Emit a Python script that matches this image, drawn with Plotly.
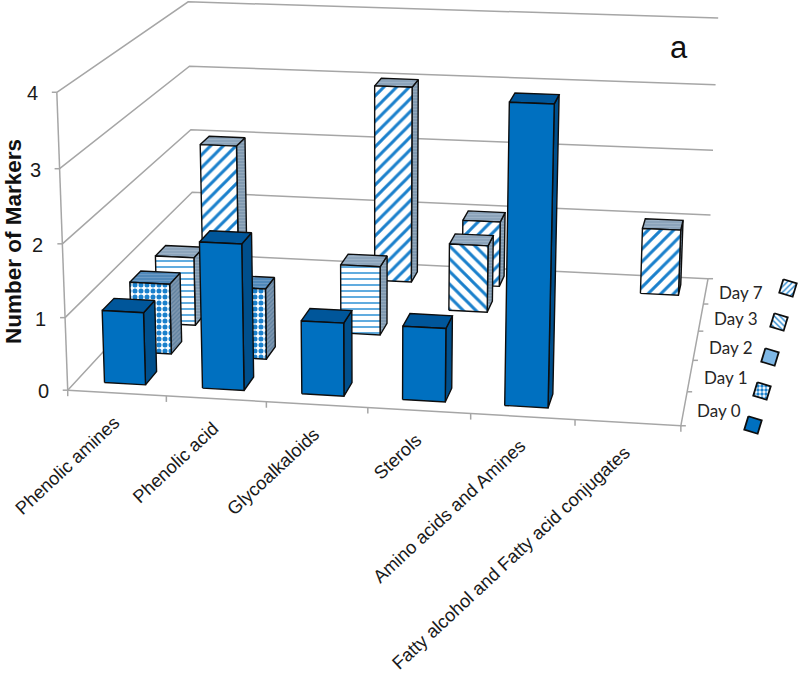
import numpy as np
import plotly.graph_objects as go

# ---- data ----
categories = ["Phenolic amines", "Phenolic acid", "Glycoalkaloids", "Sterols",
              "Amino acids and Amines", "Fatty alcohol and Fatty acid conjugates"]
days = ["Day 0", "Day 1", "Day 2", "Day 3", "Day 7"]
day0 = [1, 2, 1, 1, 4, 0]
day1 = [1, 1, 0, 0, 0, 0]
day2 = [1, 0, 1, 0, 0, 0]
day3 = [0, 0, 0, 1, 0, 0]
day7 = [2, 0, 3, 1, 0, 1]
series = [day0, day1, day2, day3, day7]
value_ticks = [0, 1, 2, 3, 4]

# ---- oblique-view calibration: (category, depth, value) -> page position ----
calib_src = [(0,0,0),(0,0,1),(0,0,2),(0,0,3),(0,0,4),
             (0,5,0),(0,5,1),(0,5,2),(0,5,3),(0,5,4),
             (6,5,0),(6,5,1),(6,5,2),(6,5,3),(6,5,4),
             (6,0,0),(1,0,0),(2,0,0),(3,0,0),(4,0,0),(5,0,0),
             (6,1,0),(6,2,0),(6,3,0),(6,4,0)]
calib_dst = [(68,390),(65,317),(62,243),(60,168),(57,93),
             (194,255),(192,193),(191,129),(189,66),(188,2),
             (708,277),(711,215),(713,151),(716,85),(718,18),
             (681,426),(166,396),(267,402),(367,408),(471,414),(575,420),
             (687,392),(693,360),(698,331),(703,304)]

rows = []
for (X, Y, Z), (x, y) in zip(calib_src, calib_dst):
    x, y = x / 1000, y / 1000
    rows.append([X, Y, Z, 1, 0, 0, 0, 0, -x*X, -x*Y, -x*Z, -x])
    rows.append([0, 0, 0, 0, X, Y, Z, 1, -y*X, -y*Y, -y*Z, -y])
P = np.linalg.svd(np.array(rows, float))[2][-1].reshape(3, 4)


def proj(u, v, w):
    a = P @ np.array([u, v, w, 1.0])
    return 1000 * a[0] / a[2], 1000 * a[1] / a[2]


def poly(pts):
    xy = [proj(*p) for p in pts]
    return [q[0] for q in xy], [q[1] for q in xy]


fig = go.Figure()
GRID = "#a6a6a6"


def segment(pts, color=GRID, width=1.5):
    x, y = poly(pts)
    fig.add_trace(go.Scatter(x=x, y=y, mode="lines", hoverinfo="skip",
                             line=dict(color=color, width=width)))


def tick(p, dx, dy):
    x, y = proj(*p)
    fig.add_trace(go.Scatter(x=[x, x + dx], y=[y, y + dy], mode="lines", hoverinfo="skip",
                             line=dict(color=GRID, width=1.5)))


NC, ND, VMAX = len(categories), len(days), max(value_ticks)
for w in value_ticks:
    segment([(0, 0, w), (0, ND, w), (NC, ND, w)])
    tick((0, 0, w), -5, 0)
segment([(0, 0, 0), (0, 0, VMAX)])
segment([(0, 0, 0), (NC, 0, 0), (NC, ND, 0)])
for u in range(NC + 1):
    tick((u, 0, 0), 0, 6)
for v in range(ND + 1):
    tick((NC, v, 0), 5, 0)

EDGE = "#0d0d0d"
SIDE = "#7f98b0"
TOP = "#8aa3ba"


def pat(shape, fg, bg, size, solidity):
    return dict(shape=shape, fgcolor=fg, bgcolor=bg, size=size, solidity=solidity, fgopacity=1)


fronts = [
    dict(color="#0070c0", pat=None),
    dict(color="#ffffff", pat=pat(".", "#1a80cc", "#ffffff", 6, 0.55)),
    dict(color="#ffffff", pat=pat("-", "#4fa3dc", "#ffffff", 6, 0.3)),
    dict(color="#ffffff", pat=pat("\\", "#1a80cc", "#ffffff", 9, 0.33)),
    dict(color="#ffffff", pat=pat("/", "#1a80cc", "#ffffff", 9, 0.33)),
]
sides = [
    dict(color="#004f8c", pat=None),
    dict(color=SIDE, pat=pat("/", "#5d7f9e", SIDE, 3, 0.4)),
    dict(color=SIDE, pat=pat("-", "#94aabd", SIDE, 3, 0.4)),
    dict(color=SIDE, pat=pat("-", "#94aabd", SIDE, 3, 0.4)),
    dict(color=SIDE, pat=pat("-", "#94aabd", SIDE, 3, 0.4)),
]
tops = [
    dict(color="#00569a", pat=None),
    dict(color="#4d86b8", pat=pat("-", "#6c9ac4", "#4d86b8", 3, 0.4)),
    dict(color=TOP, pat=pat("-", "#9db2c6", TOP, 3, 0.4)),
    dict(color=TOP, pat=pat("-", "#9db2c6", TOP, 3, 0.4)),
    dict(color=TOP, pat=pat("-", "#9db2c6", TOP, 3, 0.4)),
]


def face(x, y, style, lw=1.4):
    kw = dict(fillpattern=style["pat"]) if style["pat"] else {}
    fig.add_trace(go.Scatter(x=list(x) + [x[0]], y=list(y) + [y[0]], mode="lines", fill="toself",
                             fillcolor=style["color"], hoverinfo="skip",
                             line=dict(color=EDGE, width=lw), **kw))


MARGIN = 0.29
for d in range(ND - 1, -1, -1):
    for c in range(NC):
        val = series[d][c]
        if val == 0:
            continue
        u0, u1 = c + MARGIN, c + 1 - MARGIN
        v0, v1 = d + MARGIN, d + 1 - MARGIN
        face(*poly([(u1, v0, 0), (u1, v1, 0), (u1, v1, val), (u1, v0, val)]), sides[d])
        face(*poly([(u0, v0, val), (u1, v0, val), (u1, v1, val), (u0, v1, val)]), tops[d])
        face(*poly([(u0, v0, 0), (u1, v0, 0), (u1, v0, val), (u0, v0, val)]), fronts[d])

# legend keys, rotated with the depth axis
key_x = [753, 762, 770, 779, 788]
key_y = [425, 391, 357, 322, 288]
key_text_x = [719, 726, 731, 736, 741]
key_text_y = [410, 377, 347, 318, 292]
key_fill = [fronts[0], fronts[1], dict(color="#7fb8e6", pat=None), fronts[3], fronts[4]]
KEY = 7
ang = np.radians(17)
for i, name in enumerate(days):
    corners = [(-KEY, -KEY), (KEY, -KEY), (KEY, KEY), (-KEY, KEY)]
    xs = [key_x[i] + a*np.cos(ang) - b*np.sin(ang) for a, b in corners]
    ys = [key_y[i] + a*np.sin(ang) + b*np.cos(ang) for a, b in corners]
    style = dict(key_fill[i])
    if style["pat"]:
        style["pat"] = dict(style["pat"], size=4)
    face(xs, ys, style, lw=1.8)
    fig.add_annotation(x=key_text_x[i], y=key_text_y[i], text=name, showarrow=False,
                       font=dict(family="Lato", size=17, color="#262626"),
                       xanchor="center", yanchor="middle")

# value axis labels
for w in value_ticks:
    x, y = proj(0, 0, w)
    fig.add_annotation(x=x - 17, y=y + 1, text=str(w), showarrow=False, xanchor="right", yanchor="middle",
                       font=dict(family="Liberation Sans", size=20, color="#1a1a1a"))

# category labels
for c, name in enumerate(categories):
    x, y = proj(c + 0.5, 0, 0)
    fig.add_annotation(x=x + 9, y=y + 16, text=name, showarrow=False, textangle=-43,
                       xanchor="right", yanchor="top",
                       font=dict(family="Liberation Sans", size=18.3, color="#1a1a1a"))

fig.add_annotation(x=13, y=242, text="<b>Number of Markers</b>", showarrow=False, textangle=-90,
                   xanchor="center", yanchor="middle",
                   font=dict(family="Liberation Sans", size=22.5, color="#111111"))
fig.add_annotation(x=679, y=47, text="a", showarrow=False, xanchor="center", yanchor="middle",
                   font=dict(family="Liberation Sans", size=31, color="#111111"))

fig.update_layout(width=800, height=683, margin=dict(l=0, r=0, t=0, b=0), showlegend=False,
                  paper_bgcolor="white", plot_bgcolor="white",
                  xaxis=dict(range=[0, 800], visible=False, fixedrange=True),
                  yaxis=dict(range=[683, 0], visible=False, fixedrange=True))
fig.write_html("out.html", config=dict(displayModeBar=False),
               post_script="document.body.style.margin='0';document.documentElement.style.overflow='hidden';")
